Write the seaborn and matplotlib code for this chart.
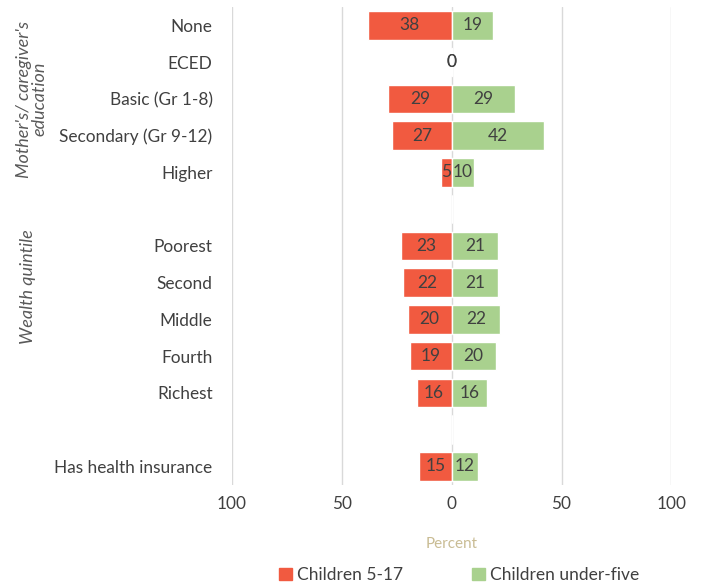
import matplotlib.pyplot as plt
import seaborn as sns
import pandas as pd
from matplotlib.patches import Patch

# categories (blank strings are spacer rows)
categories = ["None", "ECED", "Basic (Gr 1-8)", "Secondary (Gr 9-12)", "Higher", " ",
              "Poorest", "Second", "Middle", "Fourth", "Richest", "  ",
              "Has health insurance"]
older = [38, 0.4, 29, 27, 5, None, 23, 22, 20, 19, 16, None, 15]      # Children 5-17
under5 = [19, 0, 29, 42, 10, None, 21, 21, 22, 20, 16, None, 12]      # Children under-five
older_lbl = ["38", "0", "29", "27", "5", "", "23", "22", "20", "19", "16", "", "15"]
under5_lbl = ["19", "0", "29", "42", "10", "", "21", "21", "22", "20", "16", "", "12"]

red = "#F15A40"
green = "#A9D18E"

sns.set_style("white")
plt.rcParams['font.family'] = ['Lato', 'DejaVu Sans']

rows = []
for c, a, b in zip(categories, older, under5):
    rows.append({"cat": c, "grp": "Children 5-17", "val": -a if a is not None else 0})
    rows.append({"cat": c, "grp": "Children under-five", "val": b if b is not None else 0})
df = pd.DataFrame(rows)

fig = plt.figure(figsize=(7.03, 5.84), dpi=100)
ax = fig.add_axes([0.33, 0.17, 0.625, 0.818])

sns.barplot(data=df, y="cat", x="val", hue="grp", order=categories,
            hue_order=["Children 5-17", "Children under-five"],
            palette=[red, green], saturation=1, dodge=False, width=0.78, orient="h",
            ax=ax, legend=False, zorder=3)

ax.set_xlim(-100, 100)
ax.set_xticks([-100, -50, 0, 50, 100])
ax.set_xticklabels(["100", "50", "0", "50", "100"])
for x in [-100, -50, 0, 50, 100]:
    ax.axvline(x, color="#D9D9D9", lw=1, zorder=1)
for s in ax.spines.values():
    s.set_visible(False)
ax.tick_params(axis="both", length=0, labelsize=12.4, colors="#404040", pad=8)
ax.tick_params(axis="y", pad=14)
ax.set_ylabel("")
ax.set_xlabel("Percent", color="#C9BC94", fontsize=11, labelpad=18)

for i, (a, b) in enumerate(zip(older, under5)):
    if a is None:
        continue
    ax.text(-a / 2, i, older_lbl[i], ha="center", va="center", fontsize=12.5, color="#404040", zorder=4)
    ax.text(b / 2, i, under5_lbl[i], ha="center", va="center", fontsize=12.5, color="#404040", zorder=4)

fig.text(0.045, 0.83, "Mother's/ caregiver's\neducation", rotation=90, ha="center", va="center",
         style="italic", fontsize=13, color="#595959", linespacing=1.0)
fig.text(0.04, 0.51, "Wealth quintile", rotation=90, ha="center", va="center",
         style="italic", fontsize=13, color="#595959")

handles = [Patch(color=red, label="Children 5-17"), Patch(color=green, label="Children under-five")]
fig.legend(handles=handles, loc="lower center", bbox_to_anchor=(0.653, -0.025), ncol=2,
           frameon=False, fontsize=12.5, handlelength=0.75, handleheight=0.75,
           columnspacing=3.95, handletextpad=0.3, labelcolor="#404040")

fig.savefig("out.png", dpi=100)
